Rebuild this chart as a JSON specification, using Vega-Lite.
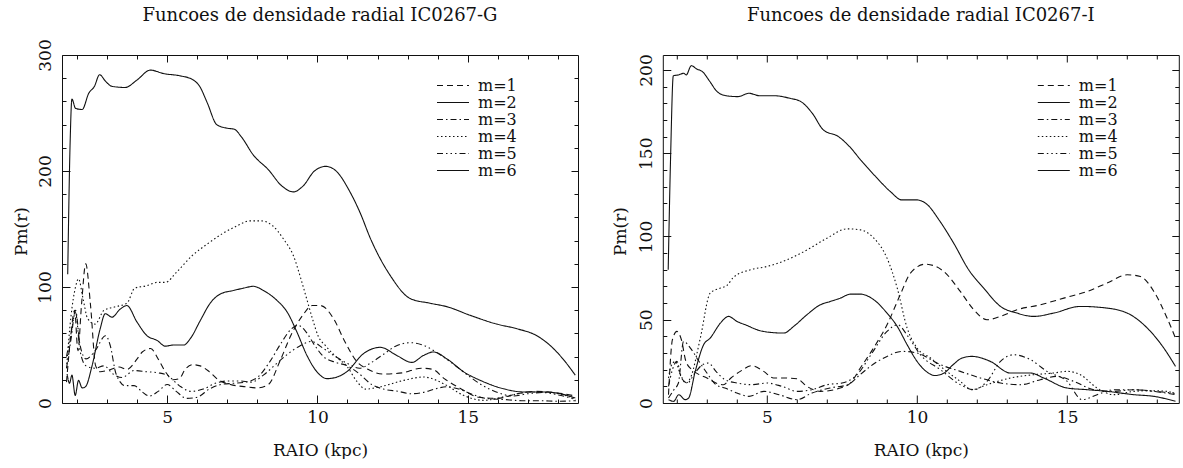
{
  "$schema": "https://vega.github.io/schema/vega-lite/v6.json",
  "background": "white",
  "padding": {"left": 12, "top": 6, "right": 0, "bottom": 0},
  "bounds": "flush",
  "spacing": 84.8,
  "config": {
    "view": {"stroke": "#111", "strokeWidth": 1},
    "font": "DejaVu Serif",
    "axis": {"domain": false, "grid": false, "tickColor": "#111", "tickWidth": 1, "labelFont": "DejaVu Serif", "labelFontSize": 17, "labelColor": "#111", "titleFont": "DejaVu Serif", "titleFontSize": 17, "titleFontWeight": "normal", "titleColor": "#111", "labelFlush": false, "labelOverlap": false},
    "legend": {"orient": "none", "legendX": 374, "legendY": 22, "title": null, "symbolType": "stroke", "symbolSize": 1024, "symbolStrokeWidth": 1.2, "symbolStrokeColor": "#111", "labelFont": "DejaVu Serif", "labelFontSize": 16, "labelColor": "#111", "labelOffset": 8, "rowPadding": 0, "clipHeight": 17, "padding": 0}
  },
  "resolve": {"scale": {"strokeDash": "independent"}, "legend": {"strokeDash": "independent"}},
  "datasets": {
    "g": [
      {"r":1.65,"p":18,"m":"m=1"},{"r":1.8,"p":60,"m":"m=1"},{"r":1.92,"p":80,"m":"m=1"},{"r":2.03,"p":45,"m":"m=1"},{"r":2.15,"p":85,"m":"m=1"},{"r":2.29,"p":120,"m":"m=1"},{"r":2.45,"p":84,"m":"m=1"},{"r":2.62,"p":32,"m":"m=1"},{"r":2.77,"p":27,"m":"m=1"},{"r":3.0,"p":28,"m":"m=1"},{"r":3.4,"p":31,"m":"m=1"},{"r":3.66,"p":29,"m":"m=1"},{"r":4.0,"p":38,"m":"m=1"},{"r":4.17,"p":44,"m":"m=1"},{"r":4.45,"p":47,"m":"m=1"},{"r":4.7,"p":38,"m":"m=1"},{"r":4.94,"p":27,"m":"m=1"},{"r":5.2,"p":20,"m":"m=1"},{"r":5.4,"p":21,"m":"m=1"},{"r":5.6,"p":29,"m":"m=1"},{"r":5.85,"p":33,"m":"m=1"},{"r":6.1,"p":32,"m":"m=1"},{"r":6.4,"p":27,"m":"m=1"},{"r":6.7,"p":20,"m":"m=1"},{"r":7.1,"p":16,"m":"m=1"},{"r":7.6,"p":14,"m":"m=1"},{"r":8.0,"p":13,"m":"m=1"},{"r":8.37,"p":16,"m":"m=1"},{"r":8.75,"p":36,"m":"m=1"},{"r":9.13,"p":59,"m":"m=1"},{"r":9.52,"p":76,"m":"m=1"},{"r":9.83,"p":84,"m":"m=1"},{"r":10.1,"p":84,"m":"m=1"},{"r":10.53,"p":73,"m":"m=1"},{"r":10.91,"p":53,"m":"m=1"},{"r":11.3,"p":36,"m":"m=1"},{"r":11.68,"p":29,"m":"m=1"},{"r":12.19,"p":25,"m":"m=1"},{"r":12.82,"p":26,"m":"m=1"},{"r":13.46,"p":30,"m":"m=1"},{"r":13.84,"p":29,"m":"m=1"},{"r":14.22,"p":21,"m":"m=1"},{"r":14.73,"p":13,"m":"m=1"},{"r":15.37,"p":5,"m":"m=1"},{"r":16.0,"p":4,"m":"m=1"},{"r":16.64,"p":8,"m":"m=1"},{"r":17.28,"p":10,"m":"m=1"},{"r":17.9,"p":9,"m":"m=1"},{"r":18.6,"p":6,"m":"m=1"},
      {"r":1.69,"p":111,"m":"m=2"},{"r":1.77,"p":224,"m":"m=2"},{"r":1.83,"p":262,"m":"m=2"},{"r":1.95,"p":254,"m":"m=2"},{"r":2.17,"p":253,"m":"m=2"},{"r":2.39,"p":267,"m":"m=2"},{"r":2.58,"p":273,"m":"m=2"},{"r":2.75,"p":283,"m":"m=2"},{"r":2.96,"p":277,"m":"m=2"},{"r":3.16,"p":273,"m":"m=2"},{"r":3.6,"p":272,"m":"m=2"},{"r":4.0,"p":278.5,"m":"m=2"},{"r":4.44,"p":287,"m":"m=2"},{"r":4.88,"p":284,"m":"m=2"},{"r":5.44,"p":282,"m":"m=2"},{"r":5.83,"p":279,"m":"m=2"},{"r":6.08,"p":273,"m":"m=2"},{"r":6.33,"p":259,"m":"m=2"},{"r":6.65,"p":240,"m":"m=2"},{"r":6.97,"p":237,"m":"m=2"},{"r":7.23,"p":236,"m":"m=2"},{"r":7.48,"p":229,"m":"m=2"},{"r":7.86,"p":214,"m":"m=2"},{"r":8.37,"p":201,"m":"m=2"},{"r":8.82,"p":187,"m":"m=2"},{"r":9.2,"p":182,"m":"m=2"},{"r":9.52,"p":187,"m":"m=2"},{"r":9.9,"p":200,"m":"m=2"},{"r":10.28,"p":204,"m":"m=2"},{"r":10.66,"p":199,"m":"m=2"},{"r":11.04,"p":184,"m":"m=2"},{"r":11.42,"p":164,"m":"m=2"},{"r":11.76,"p":142,"m":"m=2"},{"r":12.42,"p":110,"m":"m=2"},{"r":13.09,"p":90,"m":"m=2"},{"r":13.75,"p":86,"m":"m=2"},{"r":14.31,"p":83,"m":"m=2"},{"r":15.08,"p":75.6,"m":"m=2"},{"r":15.97,"p":68,"m":"m=2"},{"r":16.64,"p":64,"m":"m=2"},{"r":17.3,"p":58,"m":"m=2"},{"r":17.85,"p":47,"m":"m=2"},{"r":18.2,"p":37,"m":"m=2"},{"r":18.58,"p":24,"m":"m=2"},
      {"r":1.65,"p":30,"m":"m=3"},{"r":1.8,"p":55,"m":"m=3"},{"r":1.95,"p":80,"m":"m=3"},{"r":2.1,"p":50,"m":"m=3"},{"r":2.3,"p":38,"m":"m=3"},{"r":2.6,"p":45,"m":"m=3"},{"r":2.95,"p":58,"m":"m=3"},{"r":3.1,"p":50,"m":"m=3"},{"r":3.3,"p":25,"m":"m=3"},{"r":3.6,"p":15,"m":"m=3"},{"r":3.9,"p":15,"m":"m=3"},{"r":4.15,"p":10,"m":"m=3"},{"r":4.4,"p":6,"m":"m=3"},{"r":4.7,"p":10,"m":"m=3"},{"r":5.0,"p":16,"m":"m=3"},{"r":5.3,"p":10,"m":"m=3"},{"r":5.65,"p":4,"m":"m=3"},{"r":6.0,"p":5,"m":"m=3"},{"r":6.4,"p":12,"m":"m=3"},{"r":6.8,"p":16,"m":"m=3"},{"r":7.2,"p":17,"m":"m=3"},{"r":7.6,"p":18,"m":"m=3"},{"r":8.0,"p":22,"m":"m=3"},{"r":8.4,"p":35,"m":"m=3"},{"r":8.8,"p":52,"m":"m=3"},{"r":9.1,"p":63,"m":"m=3"},{"r":9.35,"p":67,"m":"m=3"},{"r":9.6,"p":62,"m":"m=3"},{"r":9.9,"p":50,"m":"m=3"},{"r":10.2,"p":40,"m":"m=3"},{"r":10.6,"p":35,"m":"m=3"},{"r":11.0,"p":32,"m":"m=3"},{"r":11.4,"p":25,"m":"m=3"},{"r":11.8,"p":16,"m":"m=3"},{"r":12.2,"p":12,"m":"m=3"},{"r":12.7,"p":10,"m":"m=3"},{"r":13.1,"p":8,"m":"m=3"},{"r":13.5,"p":9,"m":"m=3"},{"r":13.9,"p":12,"m":"m=3"},{"r":14.3,"p":14,"m":"m=3"},{"r":14.7,"p":12,"m":"m=3"},{"r":15.1,"p":8,"m":"m=3"},{"r":15.6,"p":4,"m":"m=3"},{"r":16.2,"p":3,"m":"m=3"},{"r":16.8,"p":2,"m":"m=3"},{"r":17.4,"p":2,"m":"m=3"},{"r":18.0,"p":1.5,"m":"m=3"},{"r":18.6,"p":2,"m":"m=3"},
      {"r":1.65,"p":30,"m":"m=4"},{"r":1.8,"p":75,"m":"m=4"},{"r":1.95,"p":100,"m":"m=4"},{"r":2.05,"p":107,"m":"m=4"},{"r":2.2,"p":90,"m":"m=4"},{"r":2.35,"p":73,"m":"m=4"},{"r":2.6,"p":68,"m":"m=4"},{"r":2.9,"p":80,"m":"m=4"},{"r":3.28,"p":83,"m":"m=4"},{"r":3.66,"p":86,"m":"m=4"},{"r":3.92,"p":99,"m":"m=4"},{"r":4.3,"p":101,"m":"m=4"},{"r":4.68,"p":104,"m":"m=4"},{"r":4.94,"p":104,"m":"m=4"},{"r":5.32,"p":113,"m":"m=4"},{"r":5.83,"p":127,"m":"m=4"},{"r":6.33,"p":137,"m":"m=4"},{"r":6.84,"p":146,"m":"m=4"},{"r":7.35,"p":153,"m":"m=4"},{"r":7.73,"p":157,"m":"m=4"},{"r":8.12,"p":157,"m":"m=4"},{"r":8.5,"p":153,"m":"m=4"},{"r":8.88,"p":141,"m":"m=4"},{"r":9.2,"p":127,"m":"m=4"},{"r":9.45,"p":107,"m":"m=4"},{"r":9.64,"p":90,"m":"m=4"},{"r":9.83,"p":73,"m":"m=4"},{"r":10.02,"p":58,"m":"m=4"},{"r":10.28,"p":49,"m":"m=4"},{"r":10.66,"p":39,"m":"m=4"},{"r":11.0,"p":31,"m":"m=4"},{"r":11.3,"p":19,"m":"m=4"},{"r":11.6,"p":12,"m":"m=4"},{"r":12.09,"p":14,"m":"m=4"},{"r":12.87,"p":19.5,"m":"m=4"},{"r":13.53,"p":22.4,"m":"m=4"},{"r":13.97,"p":19.5,"m":"m=4"},{"r":14.31,"p":15,"m":"m=4"},{"r":14.86,"p":6.6,"m":"m=4"},{"r":15.53,"p":2.3,"m":"m=4"},{"r":16.42,"p":6.6,"m":"m=4"},{"r":17.08,"p":9.5,"m":"m=4"},{"r":17.75,"p":9,"m":"m=4"},{"r":18.6,"p":3.5,"m":"m=4"},
      {"r":1.65,"p":40,"m":"m=5"},{"r":1.8,"p":60,"m":"m=5"},{"r":1.95,"p":78,"m":"m=5"},{"r":2.1,"p":45,"m":"m=5"},{"r":2.3,"p":32,"m":"m=5"},{"r":2.6,"p":30,"m":"m=5"},{"r":2.9,"p":32,"m":"m=5"},{"r":3.2,"p":25,"m":"m=5"},{"r":3.5,"p":22,"m":"m=5"},{"r":3.9,"p":28,"m":"m=5"},{"r":4.3,"p":27,"m":"m=5"},{"r":4.7,"p":26,"m":"m=5"},{"r":5.0,"p":24,"m":"m=5"},{"r":5.4,"p":15,"m":"m=5"},{"r":5.8,"p":10,"m":"m=5"},{"r":6.2,"p":12,"m":"m=5"},{"r":6.6,"p":17,"m":"m=5"},{"r":7.0,"p":19,"m":"m=5"},{"r":7.4,"p":19,"m":"m=5"},{"r":7.8,"p":18,"m":"m=5"},{"r":8.2,"p":24,"m":"m=5"},{"r":8.6,"p":33,"m":"m=5"},{"r":9.0,"p":42,"m":"m=5"},{"r":9.4,"p":49,"m":"m=5"},{"r":9.8,"p":53,"m":"m=5"},{"r":10.2,"p":47,"m":"m=5"},{"r":10.6,"p":40,"m":"m=5"},{"r":11.0,"p":34,"m":"m=5"},{"r":11.4,"p":30,"m":"m=5"},{"r":11.8,"p":35,"m":"m=5"},{"r":12.2,"p":42,"m":"m=5"},{"r":12.6,"p":49,"m":"m=5"},{"r":13.1,"p":52,"m":"m=5"},{"r":13.6,"p":49,"m":"m=5"},{"r":14.0,"p":43,"m":"m=5"},{"r":14.5,"p":34,"m":"m=5"},{"r":15.0,"p":24,"m":"m=5"},{"r":15.5,"p":15,"m":"m=5"},{"r":16.0,"p":9,"m":"m=5"},{"r":16.5,"p":6,"m":"m=5"},{"r":17.0,"p":8,"m":"m=5"},{"r":17.5,"p":9,"m":"m=5"},{"r":18.0,"p":7,"m":"m=5"},{"r":18.6,"p":3,"m":"m=5"},
      {"r":1.67,"p":25,"m":"m=6"},{"r":1.75,"p":17,"m":"m=6"},{"r":1.83,"p":24,"m":"m=6"},{"r":1.94,"p":6.6,"m":"m=6"},{"r":2.05,"p":19.5,"m":"m=6"},{"r":2.17,"p":13,"m":"m=6"},{"r":2.28,"p":14,"m":"m=6"},{"r":2.5,"p":32,"m":"m=6"},{"r":2.77,"p":64,"m":"m=6"},{"r":2.94,"p":77,"m":"m=6"},{"r":3.16,"p":74,"m":"m=6"},{"r":3.44,"p":81,"m":"m=6"},{"r":3.66,"p":84,"m":"m=6"},{"r":3.99,"p":70,"m":"m=6"},{"r":4.33,"p":58,"m":"m=6"},{"r":4.66,"p":54,"m":"m=6"},{"r":4.94,"p":49,"m":"m=6"},{"r":5.21,"p":50,"m":"m=6"},{"r":5.55,"p":50,"m":"m=6"},{"r":5.77,"p":55.5,"m":"m=6"},{"r":6.1,"p":71,"m":"m=6"},{"r":6.43,"p":86,"m":"m=6"},{"r":6.77,"p":94,"m":"m=6"},{"r":7.21,"p":97,"m":"m=6"},{"r":7.54,"p":99,"m":"m=6"},{"r":7.87,"p":100.6,"m":"m=6"},{"r":8.2,"p":97,"m":"m=6"},{"r":8.65,"p":88.5,"m":"m=6"},{"r":8.99,"p":78.5,"m":"m=6"},{"r":9.32,"p":61,"m":"m=6"},{"r":9.65,"p":41,"m":"m=6"},{"r":9.98,"p":27,"m":"m=6"},{"r":10.32,"p":21,"m":"m=6"},{"r":10.65,"p":22.4,"m":"m=6"},{"r":10.98,"p":27,"m":"m=6"},{"r":11.53,"p":42.5,"m":"m=6"},{"r":12.09,"p":48,"m":"m=6"},{"r":12.64,"p":41,"m":"m=6"},{"r":13.14,"p":35,"m":"m=6"},{"r":13.53,"p":41,"m":"m=6"},{"r":13.86,"p":44,"m":"m=6"},{"r":14.31,"p":38,"m":"m=6"},{"r":14.86,"p":27,"m":"m=6"},{"r":15.42,"p":19.5,"m":"m=6"},{"r":16.19,"p":12.3,"m":"m=6"},{"r":16.86,"p":9.5,"m":"m=6"},{"r":17.52,"p":9.5,"m":"m=6"},{"r":18.08,"p":8,"m":"m=6"},{"r":18.58,"p":4.3,"m":"m=6"}
    ],
    "i": [
      {"r":1.72,"p":5,"m":"m=1"},{"r":1.85,"p":38,"m":"m=1"},{"r":2.0,"p":43,"m":"m=1"},{"r":2.15,"p":38,"m":"m=1"},{"r":2.3,"p":25,"m":"m=1"},{"r":2.5,"p":20,"m":"m=1"},{"r":2.75,"p":17,"m":"m=1"},{"r":3.0,"p":15,"m":"m=1"},{"r":3.3,"p":12,"m":"m=1"},{"r":3.55,"p":11,"m":"m=1"},{"r":3.8,"p":15,"m":"m=1"},{"r":4.11,"p":19,"m":"m=1"},{"r":4.5,"p":22.4,"m":"m=1"},{"r":4.89,"p":19,"m":"m=1"},{"r":5.22,"p":15,"m":"m=1"},{"r":5.6,"p":15,"m":"m=1"},{"r":6.0,"p":14.6,"m":"m=1"},{"r":6.33,"p":10,"m":"m=1"},{"r":6.78,"p":7,"m":"m=1"},{"r":7.44,"p":9,"m":"m=1"},{"r":7.78,"p":12,"m":"m=1"},{"r":8.11,"p":21,"m":"m=1"},{"r":8.55,"p":33,"m":"m=1"},{"r":9.0,"p":47,"m":"m=1"},{"r":9.44,"p":65,"m":"m=1"},{"r":9.78,"p":78,"m":"m=1"},{"r":10.28,"p":83.4,"m":"m=1"},{"r":10.89,"p":79,"m":"m=1"},{"r":11.44,"p":67,"m":"m=1"},{"r":11.89,"p":56,"m":"m=1"},{"r":12.33,"p":50,"m":"m=1"},{"r":12.78,"p":52,"m":"m=1"},{"r":13.33,"p":56,"m":"m=1"},{"r":14.11,"p":59,"m":"m=1"},{"r":14.89,"p":63,"m":"m=1"},{"r":15.67,"p":67,"m":"m=1"},{"r":16.33,"p":72,"m":"m=1"},{"r":17.0,"p":77,"m":"m=1"},{"r":17.44,"p":76,"m":"m=1"},{"r":17.89,"p":67,"m":"m=1"},{"r":18.33,"p":51,"m":"m=1"},{"r":18.61,"p":39,"m":"m=1"},
      {"r":1.71,"p":80,"m":"m=2"},{"r":1.79,"p":148,"m":"m=2"},{"r":1.88,"p":196.5,"m":"m=2"},{"r":2.04,"p":197,"m":"m=2"},{"r":2.23,"p":198,"m":"m=2"},{"r":2.31,"p":197,"m":"m=2"},{"r":2.48,"p":202.6,"m":"m=2"},{"r":2.66,"p":200.6,"m":"m=2"},{"r":2.85,"p":199,"m":"m=2"},{"r":3.1,"p":193,"m":"m=2"},{"r":3.34,"p":187,"m":"m=2"},{"r":3.65,"p":184.5,"m":"m=2"},{"r":4.03,"p":184,"m":"m=2"},{"r":4.4,"p":186,"m":"m=2"},{"r":4.77,"p":184.5,"m":"m=2"},{"r":5.27,"p":184.5,"m":"m=2"},{"r":5.76,"p":183,"m":"m=2"},{"r":6.13,"p":181,"m":"m=2"},{"r":6.51,"p":174,"m":"m=2"},{"r":6.88,"p":164,"m":"m=2"},{"r":7.38,"p":160,"m":"m=2"},{"r":7.75,"p":154,"m":"m=2"},{"r":8.12,"p":146,"m":"m=2"},{"r":8.62,"p":136,"m":"m=2"},{"r":9.11,"p":127,"m":"m=2"},{"r":9.49,"p":122,"m":"m=2"},{"r":9.98,"p":122,"m":"m=2"},{"r":10.35,"p":119,"m":"m=2"},{"r":10.73,"p":110,"m":"m=2"},{"r":11.22,"p":96,"m":"m=2"},{"r":11.72,"p":80,"m":"m=2"},{"r":12.22,"p":69,"m":"m=2"},{"r":12.78,"p":58,"m":"m=2"},{"r":13.33,"p":54,"m":"m=2"},{"r":13.89,"p":52,"m":"m=2"},{"r":14.55,"p":54,"m":"m=2"},{"r":15.44,"p":58,"m":"m=2"},{"r":16.33,"p":57,"m":"m=2"},{"r":17.11,"p":53,"m":"m=2"},{"r":17.67,"p":45,"m":"m=2"},{"r":18.22,"p":33,"m":"m=2"},{"r":18.61,"p":22,"m":"m=2"},
      {"r":1.72,"p":3,"m":"m=3"},{"r":1.9,"p":8,"m":"m=3"},{"r":2.05,"p":12,"m":"m=3"},{"r":2.22,"p":37,"m":"m=3"},{"r":2.45,"p":33,"m":"m=3"},{"r":2.7,"p":26,"m":"m=3"},{"r":3.0,"p":18,"m":"m=3"},{"r":3.3,"p":11,"m":"m=3"},{"r":3.6,"p":9,"m":"m=3"},{"r":4.0,"p":6,"m":"m=3"},{"r":4.4,"p":4,"m":"m=3"},{"r":4.9,"p":7,"m":"m=3"},{"r":5.4,"p":5,"m":"m=3"},{"r":6.0,"p":2,"m":"m=3"},{"r":6.5,"p":6,"m":"m=3"},{"r":7.1,"p":9,"m":"m=3"},{"r":7.7,"p":11,"m":"m=3"},{"r":8.1,"p":17,"m":"m=3"},{"r":8.6,"p":24,"m":"m=3"},{"r":9.0,"p":28,"m":"m=3"},{"r":9.5,"p":31,"m":"m=3"},{"r":10.0,"p":30,"m":"m=3"},{"r":10.78,"p":23,"m":"m=3"},{"r":11.44,"p":19,"m":"m=3"},{"r":12.11,"p":15,"m":"m=3"},{"r":12.78,"p":12,"m":"m=3"},{"r":13.44,"p":11,"m":"m=3"},{"r":14.11,"p":14,"m":"m=3"},{"r":14.67,"p":16,"m":"m=3"},{"r":15.22,"p":13,"m":"m=3"},{"r":15.89,"p":8,"m":"m=3"},{"r":16.55,"p":7,"m":"m=3"},{"r":17.22,"p":8,"m":"m=3"},{"r":17.89,"p":7,"m":"m=3"},{"r":18.61,"p":5,"m":"m=3"},
      {"r":1.72,"p":15,"m":"m=4"},{"r":1.8,"p":22,"m":"m=4"},{"r":1.95,"p":25,"m":"m=4"},{"r":2.1,"p":18,"m":"m=4"},{"r":2.3,"p":12,"m":"m=4"},{"r":2.45,"p":15,"m":"m=4"},{"r":2.78,"p":39,"m":"m=4"},{"r":3.11,"p":66,"m":"m=4"},{"r":3.45,"p":69,"m":"m=4"},{"r":3.67,"p":70.6,"m":"m=4"},{"r":3.89,"p":75.6,"m":"m=4"},{"r":4.45,"p":80,"m":"m=4"},{"r":5.0,"p":82,"m":"m=4"},{"r":5.67,"p":86,"m":"m=4"},{"r":6.34,"p":92,"m":"m=4"},{"r":7.0,"p":99,"m":"m=4"},{"r":7.67,"p":104.6,"m":"m=4"},{"r":8.11,"p":104,"m":"m=4"},{"r":8.56,"p":99,"m":"m=4"},{"r":9.0,"p":87,"m":"m=4"},{"r":9.34,"p":69,"m":"m=4"},{"r":9.67,"p":45,"m":"m=4"},{"r":10.0,"p":33,"m":"m=4"},{"r":10.45,"p":27,"m":"m=4"},{"r":10.78,"p":22,"m":"m=4"},{"r":11.44,"p":13,"m":"m=4"},{"r":11.83,"p":8,"m":"m=4"},{"r":12.33,"p":11,"m":"m=4"},{"r":13.11,"p":15,"m":"m=4"},{"r":13.89,"p":17,"m":"m=4"},{"r":14.55,"p":18,"m":"m=4"},{"r":15.0,"p":19,"m":"m=4"},{"r":15.44,"p":17,"m":"m=4"},{"r":16.0,"p":9,"m":"m=4"},{"r":16.55,"p":5,"m":"m=4"},{"r":17.22,"p":7,"m":"m=4"},{"r":17.78,"p":7.4,"m":"m=4"},{"r":18.33,"p":7,"m":"m=4"},{"r":18.61,"p":5.4,"m":"m=4"},
      {"r":1.72,"p":10,"m":"m=5"},{"r":1.85,"p":20,"m":"m=5"},{"r":2.0,"p":25,"m":"m=5"},{"r":2.15,"p":15,"m":"m=5"},{"r":2.35,"p":12,"m":"m=5"},{"r":2.6,"p":18,"m":"m=5"},{"r":2.85,"p":23,"m":"m=5"},{"r":3.05,"p":24,"m":"m=5"},{"r":3.3,"p":19,"m":"m=5"},{"r":3.6,"p":14,"m":"m=5"},{"r":4.0,"p":12,"m":"m=5"},{"r":4.5,"p":11,"m":"m=5"},{"r":5.0,"p":12,"m":"m=5"},{"r":5.5,"p":10,"m":"m=5"},{"r":6.0,"p":7,"m":"m=5"},{"r":6.5,"p":8,"m":"m=5"},{"r":7.0,"p":11,"m":"m=5"},{"r":7.5,"p":12,"m":"m=5"},{"r":8.0,"p":17,"m":"m=5"},{"r":8.5,"p":30,"m":"m=5"},{"r":9.0,"p":43,"m":"m=5"},{"r":9.35,"p":47,"m":"m=5"},{"r":9.7,"p":40,"m":"m=5"},{"r":10.11,"p":29,"m":"m=5"},{"r":10.78,"p":20,"m":"m=5"},{"r":11.44,"p":11,"m":"m=5"},{"r":11.89,"p":8,"m":"m=5"},{"r":12.33,"p":13,"m":"m=5"},{"r":12.78,"p":25,"m":"m=5"},{"r":13.22,"p":29,"m":"m=5"},{"r":13.78,"p":26,"m":"m=5"},{"r":14.33,"p":19,"m":"m=5"},{"r":15.0,"p":13,"m":"m=5"},{"r":15.5,"p":2,"m":"m=5"},{"r":16.0,"p":5,"m":"m=5"},{"r":16.55,"p":8,"m":"m=5"},{"r":17.22,"p":8,"m":"m=5"},{"r":17.89,"p":7,"m":"m=5"},{"r":18.61,"p":6,"m":"m=5"},
      {"r":1.72,"p":2,"m":"m=6"},{"r":1.89,"p":1,"m":"m=6"},{"r":2.06,"p":5,"m":"m=6"},{"r":2.28,"p":2,"m":"m=6"},{"r":2.39,"p":3,"m":"m=6"},{"r":2.61,"p":19,"m":"m=6"},{"r":2.89,"p":35,"m":"m=6"},{"r":3.11,"p":39,"m":"m=6"},{"r":3.45,"p":48,"m":"m=6"},{"r":3.72,"p":52,"m":"m=6"},{"r":4.0,"p":49,"m":"m=6"},{"r":4.33,"p":46.6,"m":"m=6"},{"r":4.67,"p":44,"m":"m=6"},{"r":5.11,"p":42.4,"m":"m=6"},{"r":5.56,"p":42,"m":"m=6"},{"r":5.89,"p":46,"m":"m=6"},{"r":6.33,"p":53,"m":"m=6"},{"r":6.78,"p":59,"m":"m=6"},{"r":7.11,"p":61,"m":"m=6"},{"r":7.45,"p":63,"m":"m=6"},{"r":7.78,"p":65.4,"m":"m=6"},{"r":8.11,"p":65.4,"m":"m=6"},{"r":8.56,"p":62,"m":"m=6"},{"r":9.0,"p":54,"m":"m=6"},{"r":9.34,"p":46,"m":"m=6"},{"r":9.67,"p":35,"m":"m=6"},{"r":10.0,"p":25,"m":"m=6"},{"r":10.3,"p":19,"m":"m=6"},{"r":10.6,"p":16.5,"m":"m=6"},{"r":10.9,"p":18,"m":"m=6"},{"r":11.2,"p":23,"m":"m=6"},{"r":11.5,"p":27,"m":"m=6"},{"r":11.83,"p":28,"m":"m=6"},{"r":12.44,"p":25,"m":"m=6"},{"r":13.11,"p":18,"m":"m=6"},{"r":13.78,"p":18,"m":"m=6"},{"r":14.22,"p":15,"m":"m=6"},{"r":15.0,"p":9,"m":"m=6"},{"r":15.67,"p":8,"m":"m=6"},{"r":16.33,"p":7,"m":"m=6"},{"r":17.22,"p":5,"m":"m=6"},{"r":17.89,"p":4,"m":"m=6"},{"r":18.61,"p":1,"m":"m=6"}
    ]
  },
  "hconcat": [
    {
      "width": 516, "height": 348,
      "data": {"name": "g"},
      "title": {"text": "Funcoes de densidade radial IC0267-G", "fontSize": 18, "font": "DejaVu Serif", "fontWeight": "normal", "color": "#111", "anchor": "middle", "baseline": "alphabetic", "offset": 0},
      "resolve": {"axis": {"x": "independent", "y": "independent"}},
      "layer": [
        {
          "mark": {"type": "line", "interpolate": "monotone", "strokeWidth": 1.1, "color": "#111"},
          "encoding": {
            "x": {"field": "r", "type": "quantitative", "scale": {"domain": [1.5, 18.67], "nice": false, "zero": false}, "axis": {"orient": "bottom", "values": [5, 10, 15], "tickSize": -8, "labelPadding": 22, "labelBaseline": "middle", "title": "RAIO (kpc)", "titleY": 47.5, "titleBaseline": "middle"}},
            "y": {"field": "p", "type": "quantitative", "scale": {"domain": [0, 300], "nice": false}, "axis": {"orient": "left", "values": [0, 100, 200, 300], "tickSize": -8, "labelAngle": 270, "labelAlign": "center", "labelBaseline": "middle", "labelPadding": 24.7, "title": "Pm(r)", "titleX": -40.2, "titleY": 176, "titleAngle": 270, "titleAlign": "center", "titleBaseline": "middle"}},
            "strokeDash": {"field": "m", "type": "nominal", "scale": {"domain": ["m=1", "m=2", "m=3", "m=4", "m=5", "m=6"], "range": [[6, 4], [1, 0], [6, 3, 1.5, 3], [1.5, 2.5], [6, 3, 1.5, 3, 1.5, 3, 1.5, 3], [1, 0]]}}
          }
        },
        {
          "mark": {"type": "line", "opacity": 0},
          "encoding": {
            "x": {"field": "r", "type": "quantitative", "axis": {"orient": "bottom", "values": [2, 3, 4, 6, 7, 8, 9, 11, 12, 13, 14, 16, 17, 18], "tickSize": -4, "labels": false, "title": null}},
            "y": {"field": "p", "type": "quantitative", "axis": {"orient": "left", "values": [20, 40, 60, 80, 120, 140, 160, 180, 220, 240, 260, 280], "tickSize": -4, "labels": false, "title": null}}
          }
        },
        {
          "mark": {"type": "line", "opacity": 0},
          "encoding": {
            "x": {"field": "r", "type": "quantitative", "axis": {"orient": "top", "values": [5, 10, 15], "tickSize": -7, "labels": false, "title": null}},
            "y": {"field": "p", "type": "quantitative", "axis": {"orient": "right", "values": [100, 200], "tickSize": -7, "labels": false, "title": null}}
          }
        },
        {
          "mark": {"type": "line", "opacity": 0},
          "encoding": {
            "x": {"field": "r", "type": "quantitative", "axis": {"orient": "top", "values": [2, 3, 4, 6, 7, 8, 9, 11, 12, 13, 14, 16, 17, 18], "tickSize": -4, "labels": false, "title": null}},
            "y": {"field": "p", "type": "quantitative", "axis": {"orient": "right", "values": [20, 40, 60, 80, 120, 140, 160, 180, 220, 240, 260, 280], "tickSize": -4, "labels": false, "title": null}}
          }
        }
      ]
    },
    {
      "width": 516, "height": 348,
      "data": {"name": "i"},
      "title": {"text": "Funcoes de densidade radial IC0267-I", "fontSize": 18, "font": "DejaVu Serif", "fontWeight": "normal", "color": "#111", "anchor": "middle", "baseline": "alphabetic", "offset": 15},
      "resolve": {"axis": {"x": "independent", "y": "independent"}},
      "layer": [
        {
          "mark": {"type": "line", "interpolate": "monotone", "strokeWidth": 1.1, "color": "#111"},
          "encoding": {
            "x": {"field": "r", "type": "quantitative", "scale": {"domain": [1.53, 18.72], "nice": false, "zero": false}, "axis": {"orient": "bottom", "values": [5, 10, 15], "tickSize": -8, "labelPadding": 22, "labelBaseline": "middle", "title": "RAIO (kpc)", "titleY": 47.5, "titleBaseline": "middle"}},
            "y": {"field": "p", "type": "quantitative", "scale": {"domain": [0, 209], "nice": false}, "axis": {"orient": "left", "values": [0, 50, 100, 150, 200], "tickSize": -8, "labelAngle": 270, "labelAlign": "center", "labelBaseline": "middle", "labelPadding": 24.7, "title": "Pm(r)", "titleX": -42, "titleY": 176, "titleAngle": 270, "titleAlign": "center", "titleBaseline": "middle"}},
            "strokeDash": {"field": "m", "type": "nominal", "scale": {"domain": ["m=1", "m=2", "m=3", "m=4", "m=5", "m=6"], "range": [[6, 4], [1, 0], [6, 3, 1.5, 3], [1.5, 2.5], [6, 3, 1.5, 3, 1.5, 3, 1.5, 3], [1, 0]]}}
          }
        },
        {
          "mark": {"type": "line", "opacity": 0},
          "encoding": {
            "x": {"field": "r", "type": "quantitative", "axis": {"orient": "bottom", "values": [2, 3, 4, 6, 7, 8, 9, 11, 12, 13, 14, 16, 17, 18], "tickSize": -4, "labels": false, "title": null}},
            "y": {"field": "p", "type": "quantitative", "axis": {"orient": "left", "values": [10, 20, 30, 40, 60, 70, 80, 90, 110, 120, 130, 140, 160, 170, 180, 190], "tickSize": -4, "labels": false, "title": null}}
          }
        },
        {
          "mark": {"type": "line", "opacity": 0},
          "encoding": {
            "x": {"field": "r", "type": "quantitative", "axis": {"orient": "top", "values": [5, 10, 15], "tickSize": -7, "labels": false, "title": null}},
            "y": {"field": "p", "type": "quantitative", "axis": {"orient": "right", "values": [50, 100, 150, 200], "tickSize": -7, "labels": false, "title": null}}
          }
        },
        {
          "mark": {"type": "line", "opacity": 0},
          "encoding": {
            "x": {"field": "r", "type": "quantitative", "axis": {"orient": "top", "values": [2, 3, 4, 6, 7, 8, 9, 11, 12, 13, 14, 16, 17, 18], "tickSize": -4, "labels": false, "title": null}},
            "y": {"field": "p", "type": "quantitative", "axis": {"orient": "right", "values": [10, 20, 30, 40, 60, 70, 80, 90, 110, 120, 130, 140, 160, 170, 180, 190], "tickSize": -4, "labels": false, "title": null}}
          }
        }
      ]
    }
  ]
}
